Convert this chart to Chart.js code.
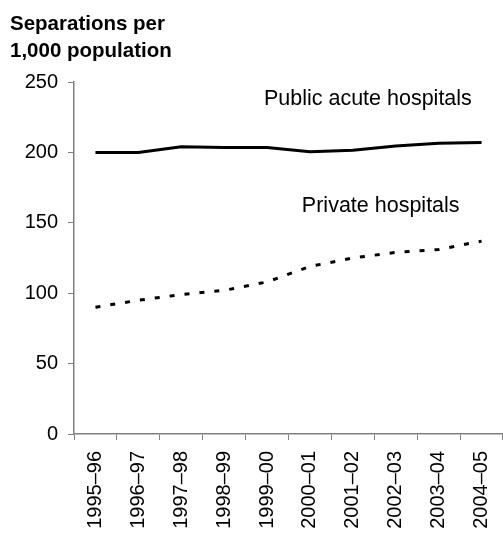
<!DOCTYPE html>
<html>
<head>
<meta charset="utf-8">
<script src="https://cdn.jsdelivr.net/npm/chart.js"></script>
<style>
  body { margin: 0; background: #fff; }
  #Chart { display: block; }
</style>
</head>
<body>
<canvas id="Chart" width="503" height="533"></canvas>
<script>
const years = ['1995–96', '1996–97', '1997–98', '1998–99', '1999–00',
  '2000–01', '2001–02', '2002–03', '2003–04', '2004–05'];
const publicAcute = [200, 200, 204, 203.5, 203.5, 200.5, 201.5, 204.5, 206.5, 207];
const privateHosp = [90, 95, 99, 102, 108, 119, 125, 129, 131, 137];
const yTicks = [0, 50, 100, 150, 200, 250];
const titleLines = ['Separations per', '1,000 population'];

const FONT = '"Liberation Sans", Arial, sans-serif';
const ctx = document.getElementById('Chart').getContext('2d');

// título del eje y etiquetas de series
const textLayer = {
  id: 'textLayer',
  afterDatasetsDraw(chart) {
    const { ctx, scales: { x, y } } = chart;
    ctx.save();
    ctx.fillStyle = '#000';
    ctx.textBaseline = 'alphabetic';
    ctx.textAlign = 'left';
    ctx.font = 'bold 20.5px ' + FONT;
    ctx.fillText(titleLines[0], 10, 30);
    ctx.fillText(titleLines[1], 10, 57);

    ctx.font = '21.5px ' + FONT;
    ctx.textBaseline = 'middle';
    ctx.textAlign = 'center';
    ctx.fillText('Public acute hospitals', x.getPixelForValue(6.35), y.getPixelForValue(238));
    ctx.fillText('Private hospitals', x.getPixelForValue(6.65), y.getPixelForValue(162));
    ctx.restore();
  }
};

new Chart(ctx, {
  type: 'line',
  data: {
    labels: years,
    datasets: [
      {
        label: 'Public acute hospitals',
        data: publicAcute,
        borderColor: '#000',
        borderWidth: 3,
        pointRadius: 0,
        tension: 0
      },
      {
        label: 'Private hospitals',
        data: privateHosp,
        borderColor: '#000',
        borderWidth: 3,
        borderDash: [5, 10],
        pointRadius: 0,
        tension: 0
      }
    ]
  },
  options: {
    responsive: false,
    animation: false,
    layout: { padding: { left: 0, right: -4, top: 82, bottom: 0 } },
    plugins: {
      legend: { display: false },
      tooltip: { enabled: false },
      title: { display: false }
    },
    scales: {
      x: {
        offset: true,
        grid: { offset: true, drawOnChartArea: false, drawTicks: true, tickLength: 6, color: '#808080' },
        border: { color: '#808080', width: 1.5 },
        ticks: {
          color: '#000',
          font: { family: FONT, size: 20 },
          minRotation: 90,
          maxRotation: 90,
          autoSkip: false,
          padding: 11
        },
        afterFit(scale) {
          scale.height = 99;
          scale.paddingLeft = 0;
          scale.paddingRight = 0;
        }
      },
      y: {
        min: 0,
        max: 250,
        afterBuildTicks(scale) { scale.ticks = yTicks.map(v => ({ value: v })); },
        grid: { drawOnChartArea: false, drawTicks: true, tickLength: 6, color: '#808080' },
        border: { color: '#808080', width: 1.5 },
        ticks: {
          color: '#000',
          font: { family: FONT, size: 20 },
          padding: 10
        },
        afterFit(scale) { scale.width = 74; }
      }
    }
  },
  plugins: [textLayer]
});
</script>
</body>
</html>
